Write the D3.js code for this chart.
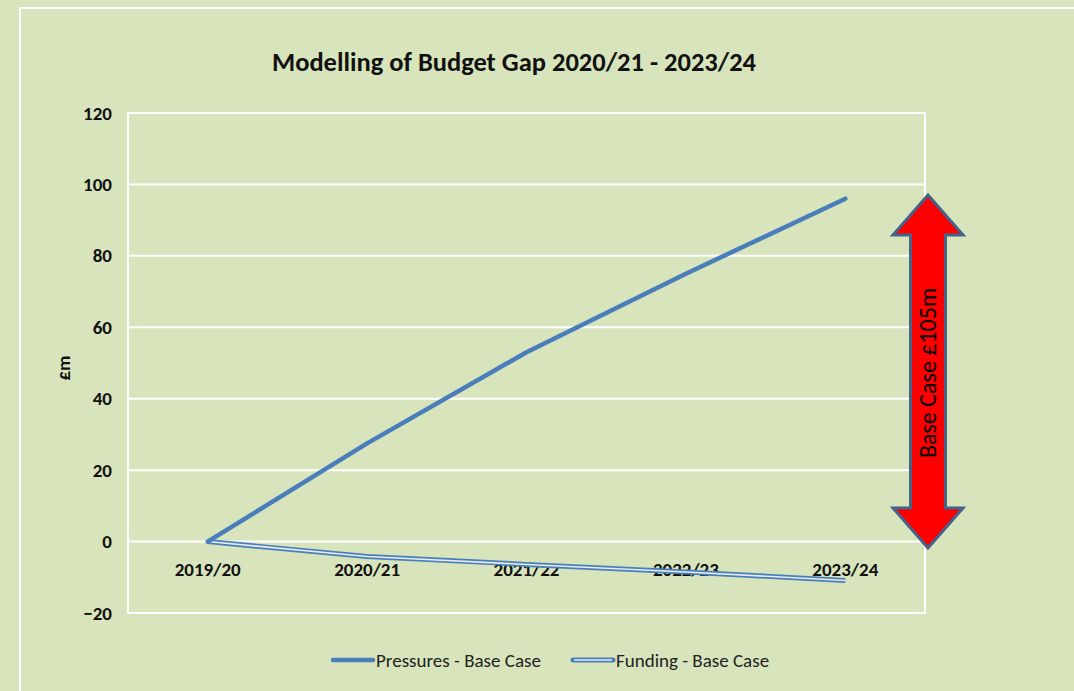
<!DOCTYPE html>
<html>
<head>
<meta charset="utf-8">
<script src="https://cdn.jsdelivr.net/npm/d3@7"></script>
<style>
  body { margin: 0; background: #D8E4BC; }
  svg { display: block; font-family: Carlito, Lato, "Open Sans", sans-serif; }
</style>
</head>
<body>
<svg id="chart" width="1074" height="691"></svg>
<script>
const years = ['2019/20', '2020/21', '2021/22', '2022/23', '2023/24'];
const pressures = [0, 27.5, 53, 75, 96];
const funding = [0, -4.2, -6.4, -8.5, -10.9];
const yTicks = [-20, 0, 20, 40, 60, 80, 100, 120];
const seriesNames = ['Pressures - Base Case', 'Funding - Base Case'];
const gapLabel = 'Base Case £105m';

const width = 1074, height = 691;
const margin = { top: 113, right: 149, bottom: 78, left: 128 };
const chartWidth = width - margin.left - margin.right;
const chartHeight = height - margin.top - margin.bottom;
const lineColor = '#4A7EBB';
const font = 'Carlito, Lato, "Open Sans", sans-serif';

const svg = d3.select('#chart');

// outer chart area border (only top/left show)
svg.append('rect')
  .attr('x', 20).attr('y', 8)
  .attr('width', 1080).attr('height', 700)
  .attr('fill', 'none')
  .attr('stroke', '#fff')
  .attr('stroke-width', 2);

svg.append('text')
  .attr('x', 514).attr('y', 71)
  .attr('text-anchor', 'middle')
  .attr('font-size', 26.5)
  .attr('font-weight', 'bold')
  .attr('fill', '#111')
  .text('Modelling of Budget Gap 2020/21 - 2023/24');

const x = d3.scaleBand()
  .domain(years)
  .range([0, chartWidth]);

const y = d3.scaleLinear()
  .domain([-20, 120])
  .range([chartHeight, 0]);

const g = svg.append('g')
  .attr('transform', `translate(${margin.left},${margin.top})`);

// gridlines
g.selectAll('.grid')
  .data(yTicks)
  .enter()
  .append('line')
  .attr('x1', 0).attr('x2', chartWidth)
  .attr('y1', d => y(d)).attr('y2', d => y(d))
  .attr('stroke', '#fff')
  .attr('stroke-width', 2);

g.append('rect')
  .attr('width', chartWidth).attr('height', chartHeight)
  .attr('fill', 'none')
  .attr('stroke', '#fff')
  .attr('stroke-width', 2);

const yAxis = d3.axisLeft(y)
  .tickValues(yTicks)
  .tickSize(0)
  .tickPadding(16);

g.append('g')
  .call(yAxis)
  .call(a => a.select('.domain').remove())
  .selectAll('text')
  .attr('font-family', font)
  .attr('font-size', 19)
  .attr('font-weight', 'bold')
  .attr('fill', '#111');

const xAxis = d3.axisBottom(x).tickSize(0).tickPadding(21);

g.append('g')
  .attr('transform', `translate(0,${y(0)})`)
  .call(xAxis)
  .call(a => a.select('.domain').remove())
  .selectAll('text')
  .attr('font-family', font)
  .attr('font-size', 19)
  .attr('font-weight', 'bold')
  .attr('fill', '#111');

svg.append('text')
  .attr('transform', 'translate(70,368) rotate(-90)')
  .attr('text-anchor', 'middle')
  .attr('font-size', 19)
  .attr('font-weight', 'bold')
  .attr('fill', '#111')
  .text('£m');

const line = d3.line()
  .x((d, i) => x(years[i]) + x.bandwidth() / 2)
  .y(d => y(d));

g.append('path')
  .datum(funding)
  .attr('d', line)
  .attr('fill', 'none')
  .attr('stroke', lineColor)
  .attr('stroke-width', 5);

g.append('path')
  .datum(funding)
  .attr('d', line)
  .attr('fill', 'none')
  .attr('stroke', '#E4ECF4')
  .attr('stroke-width', 1.6);

g.append('path')
  .datum(pressures)
  .attr('d', line)
  .attr('fill', 'none')
  .attr('stroke', lineColor)
  .attr('stroke-width', 4.5)
  .attr('stroke-linecap', 'round')
  .attr('stroke-linejoin', 'round');

// double-headed arrow for the gap
const ax = 928, arrowTop = 195, arrowBot = 548;
const headH = 40, headW = 35, shaftW = 17.5;
const arrow = [
  [ax, arrowTop], [ax + headW, arrowTop + headH], [ax + shaftW, arrowTop + headH],
  [ax + shaftW, arrowBot - headH], [ax + headW, arrowBot - headH], [ax, arrowBot],
  [ax - headW, arrowBot - headH], [ax - shaftW, arrowBot - headH],
  [ax - shaftW, arrowTop + headH], [ax - headW, arrowTop + headH]
];
svg.append('path')
  .attr('d', d3.line()(arrow) + 'Z')
  .attr('fill', '#FF0000')
  .attr('stroke', '#44628A')
  .attr('stroke-width', 3)
  .attr('stroke-linejoin', 'miter');

svg.append('text')
  .attr('transform', `translate(${ax + 8},373) rotate(-90)`)
  .attr('text-anchor', 'middle')
  .attr('font-size', 24)
  .attr('fill', '#000')
  .text(gapLabel);

// legend
const legendItems = [
  { name: seriesNames[0], x: 333, double: false },
  { name: seriesNames[1], x: 573, double: true }
];
const legend = svg.append('g').attr('transform', 'translate(0,660)');
legendItems.forEach(item => {
  legend.append('line')
    .attr('x1', item.x).attr('x2', item.x + 40)
    .attr('stroke', lineColor)
    .attr('stroke-width', item.double ? 5 : 4.5)
    .attr('stroke-linecap', 'round');
  if (item.double) {
    legend.append('line')
      .attr('x1', item.x + 1).attr('x2', item.x + 39)
      .attr('stroke', '#E4ECF4')
      .attr('stroke-width', 1.6);
  }
  legend.append('text')
    .attr('x', item.x + 43).attr('y', 7)
    .attr('font-size', 19)
    .attr('fill', '#222')
    .text(item.name);
});
</script>
</body>
</html>
